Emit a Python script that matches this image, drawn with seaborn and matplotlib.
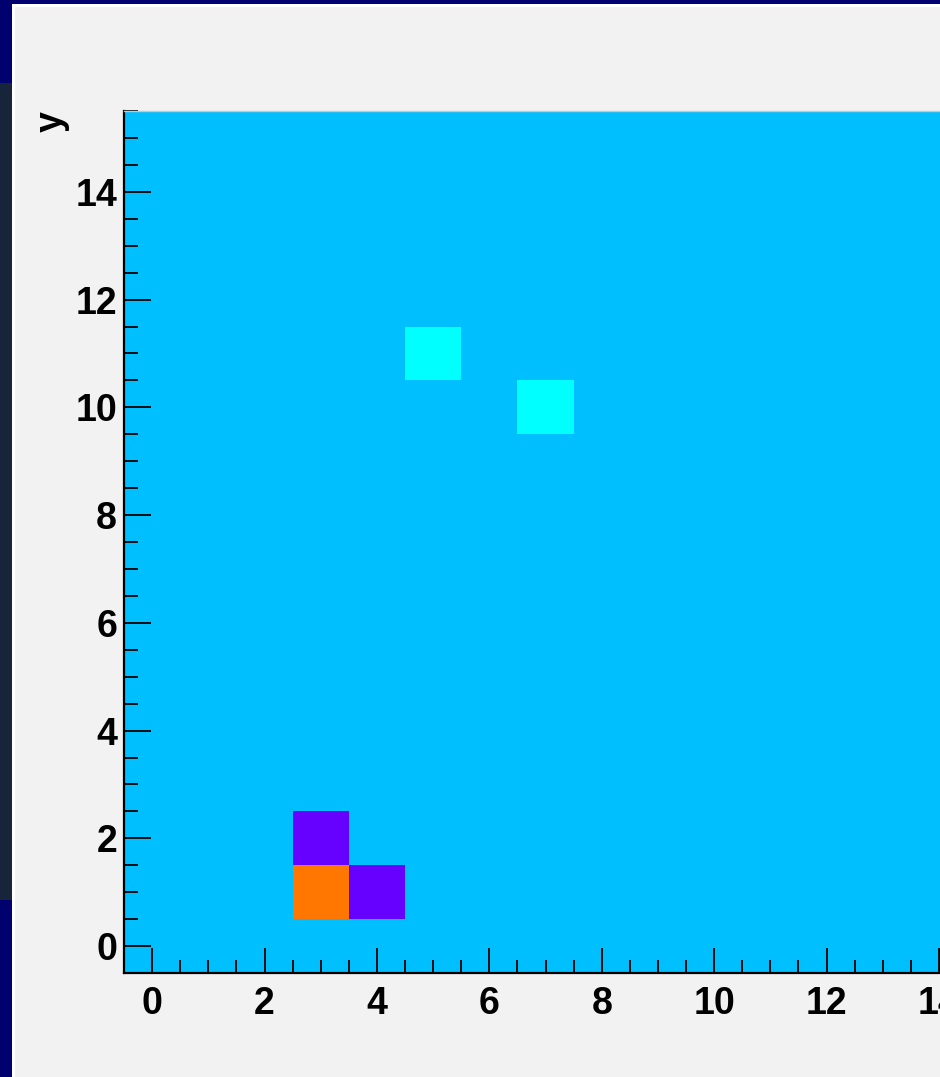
import numpy as np
import pandas as pd
import seaborn as sns
import matplotlib
matplotlib.use("Agg")
import matplotlib.pyplot as plt
from matplotlib.colors import ListedColormap, BoundaryNorm
from matplotlib.patches import Rectangle

# ---- data ----
n_bins_x = 16
n_bins_y = 16
bin_x = list(range(n_bins_x))
bin_y = list(range(n_bins_y))
cell_x = [3, 3, 4, 5, 7]
cell_y = [1, 2, 1, 11, 10]
cell_v = [4, 1, 1, 2, 2]
x_tick_values = [0, 2, 4, 6, 8, 10, 12, 14]
y_tick_values = [0, 2, 4, 6, 8, 10, 12, 14]
y_label = "y"

grid = np.full((n_bins_y, n_bins_x), np.nan)
for x, y, v in zip(cell_x, cell_y, cell_v):
    grid[y, x] = v
df = pd.DataFrame(grid, index=bin_y, columns=bin_x)

# ---- style ----
W, H = 940, 1077
sns.set_style("white")
plt.rcParams["font.family"] = ["Liberation Sans", "DejaVu Sans"]
plt.rcParams["font.weight"] = "bold"

fig = plt.figure(figsize=(W / 100, H / 100), dpi=100)
fig.patch.set_facecolor("#00006E")


def px_rect(x0, y0, x1, y1, color, z):
    fig.add_artist(Rectangle((x0 / W, 1 - y1 / H), (x1 - x0) / W, (y1 - y0) / H,
                             transform=fig.transFigure, facecolor=color,
                             edgecolor="none", zorder=z))


px_rect(0, 83, 12, 900, "#17243A", -10)
px_rect(12, 4, W, H, "#FFFFFF", -10)
px_rect(15, 7, W, H, "#F2F2F2", -9)

ax_left, ax_top, ax_bottom = 124, 111, 973
cell_w = 56.2
ax = fig.add_axes([ax_left / W, 1 - ax_bottom / H,
                   n_bins_x * cell_w / W, (ax_bottom - ax_top) / H])
ax.set_facecolor("#00BFFF")

cmap = ListedColormap(["#6600FF", "#00FFFF", "#FFCC00", "#FF7700"])
norm = BoundaryNorm([0.5, 1.5, 2.5, 3.5, 4.5], cmap.N)
sns.heatmap(df, ax=ax, cmap=cmap, norm=norm, cbar=False,
            xticklabels=False, yticklabels=False)
ax.invert_yaxis()
ax.set_xlim(0, n_bins_x)
ax.set_ylim(0, n_bins_y)

# ticks: data value v sits at heatmap position v + 0.5
ax.set_xticks([v + 0.5 for v in x_tick_values])
ax.set_xticklabels([str(v) for v in x_tick_values])
ax.set_yticks([v + 0.5 for v in y_tick_values])
ax.set_yticklabels([str(v) for v in y_tick_values])
ax.set_xticks(np.arange(0.5, n_bins_x + 0.01, 0.5) + 0.0, minor=True)
ax.set_yticks(np.arange(0.5, n_bins_y + 0.01, 0.5), minor=True)

ax.tick_params(axis="both", which="both", direction="in", color="black",
               labelsize=27, labelcolor="black", width=1.3)
ax.tick_params(axis="y", which="major", length=19.5, pad=5, left=True)
ax.tick_params(axis="y", which="minor", length=10, left=True)
ax.tick_params(axis="x", which="major", length=18, pad=9, bottom=True)
ax.tick_params(axis="x", which="minor", length=9.5, bottom=True)
for lab in ax.get_xticklabels() + ax.get_yticklabels():
    lab.set_fontweight("bold")

for side in ["left", "bottom"]:
    ax.spines[side].set_visible(True)
    ax.spines[side].set_color("black")
    ax.spines[side].set_linewidth(1.6)
ax.spines["top"].set_visible(True)
ax.spines["top"].set_color("#C8C8C8")
ax.spines["top"].set_linewidth(1.0)
ax.spines["right"].set_visible(False)

ax.set_xlabel("")
ax.set_ylabel(y_label, loc="top", fontsize=27, fontweight="bold",
              color="black", labelpad=4)

fig.savefig("out.png", dpi=100, facecolor=fig.get_facecolor())
